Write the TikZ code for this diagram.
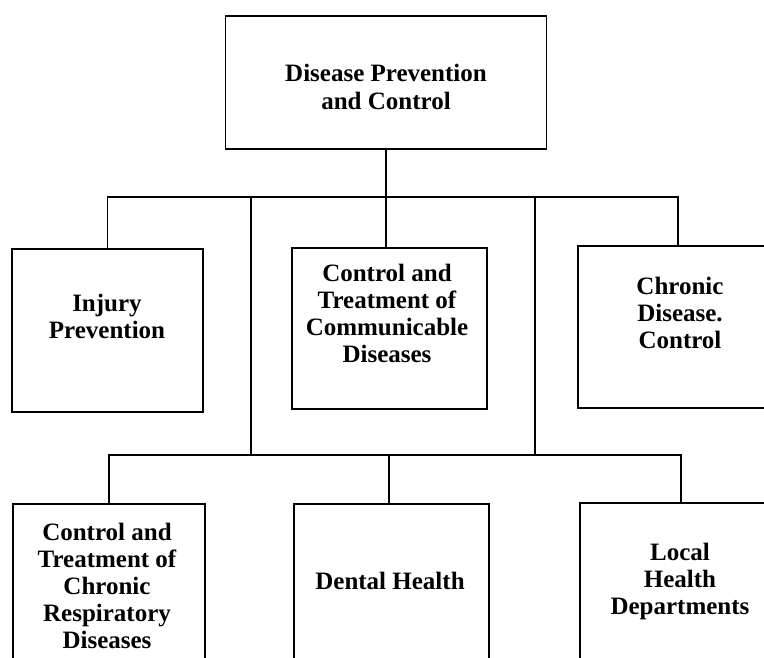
\documentclass[tikz,border=0pt]{standalone}
\usepackage{fontspec}
\setmainfont{Liberation Serif}
\begin{document}
\begin{tikzpicture}[x=1pt,y=-1pt,
  unit/.style={draw, line width=1.5pt, rectangle, inner sep=0pt},
  caption/.style={align=center, inner sep=0pt,
    font=\bfseries\fontsize{25}{27}\selectfont},
  link/.style={line width=1.5pt}]
  \path[use as bounding box, clip] (0,0) rectangle (764,657);
  \fill[white] (0,0) rectangle (764,657);

  % head office
  \node[unit, minimum width=321pt, minimum height=133pt] (top) at (386,82.5) {};
  \node[caption, font=\bfseries\fontsize{25}{28}\selectfont] (topt) at (386,87)
    {Disease Prevention\\and Control};

  % second tier
  \node[unit, minimum width=191pt, minimum height=163pt] (inj) at (107.5,330.5) {};
  \node[caption] (injt) at (107,316) {Injury\\Prevention};
  \node[unit, minimum width=195pt, minimum height=161pt] (comm) at (389.5,328.5) {};
  \node[caption] (commt) at (387,313) {Control and\\Treatment of\\Communicable\\Diseases};
  \node[unit, minimum width=200pt, minimum height=162pt] (chr) at (678,327) {};
  \node[caption] (chrt) at (680,313) {Chronic\\Disease.\\Control};

  % third tier
  \node[unit, minimum width=192pt, minimum height=170pt] (resp) at (109,589) {};
  \node[caption] (respt) at (107,586) {Control and\\Treatment of\\Chronic\\Respiratory\\Diseases};
  \node[unit, minimum width=195pt, minimum height=170pt] (dent) at (391.5,589) {};
  \node[caption] (dentt) at (390,581) {Dental Health};
  \node[unit, minimum width=202pt, minimum height=170pt] (lhd) at (681,588) {};
  \node[caption] (lhdt) at (680,581) {Local\\Health\\Departments};

  % connector junctions
  \coordinate (busA) at (386,197);
  \coordinate (busB) at (389,455);
  \coordinate (la) at (251,197);
  \coordinate (lb) at (251,455);
  \coordinate (ra) at (535,197);
  \coordinate (rb) at (535,455);

  % connectors
  \draw[link] (top.south) -- (top.south |- comm.north);
  \draw[link] (inj.north) |- (busA) -| (chr.north);
  \draw[link] (la) -- (lb);
  \draw[link] (ra) -- (rb);
  \draw[link] (resp.north) |- (busB) -| (lhd.north);
  \draw[link] (busB) -- (busB |- dent.north);
\end{tikzpicture}
\end{document}
